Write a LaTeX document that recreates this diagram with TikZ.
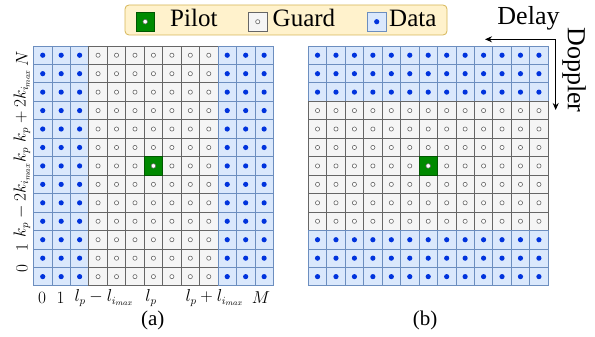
\documentclass[tikz,border=0pt]{standalone}
\usepackage{fontspec}
\setmainfont{Liberation Serif}
\usetikzlibrary{arrows.meta}
\definecolor{datafill}{HTML}{DAE8FC}
\definecolor{datastroke}{HTML}{6C8EBF}
\definecolor{datadot}{HTML}{0033DD}
\definecolor{guardfill}{HTML}{F5F5F5}
\definecolor{guardstroke}{HTML}{666666}
\definecolor{pilotfill}{HTML}{008A00}
\definecolor{pilotstroke}{HTML}{005700}
\definecolor{legfill}{HTML}{FFF2CC}
\definecolor{legstroke}{HTML}{D6B656}
\newcommand\cellsz{18.45}
\newcommand\mydatacell[2]{%
  \draw[draw=datastroke,fill=datafill,line width=0.8pt] (#1,#2) rectangle ++(\cellsz,\cellsz);
  \fill[datadot] (#1+9.225,#2+9.225) circle (2.6);}
\newcommand\myguardcell[2]{%
  \draw[draw=guardstroke,fill=guardfill,line width=0.8pt] (#1,#2) rectangle ++(\cellsz,\cellsz);
  \draw[guardstroke,fill=white,line width=0.6pt] (#1+9.225,#2+9.225) circle (2.1);}
\newcommand\mypilotcell[2]{%
  \draw[draw=pilotstroke,fill=pilotfill,line width=0.8pt] (#1,#2) rectangle ++(\cellsz,\cellsz);
  \draw[guardstroke,fill=white,line width=0.5pt] (#1+9.225,#2+9.225) circle (2.3);}
\tikzset{
  leglabel/.style={anchor=base west,inner sep=0pt,font=\fontsize{25}{25}\selectfont},
  caplabel/.style={inner sep=0pt,font=\fontsize{21}{21}\selectfont},
  axlabel/.style={inner sep=0pt,font=\fontsize{16}{16}\selectfont},
  dirlabel/.style={inner sep=1pt,fill=white,font=\fontsize{26}{26}\selectfont},
  dirarrow/.style={line width=1.1pt,-{Stealth[length=7pt,width=6pt]}}
}
\begin{document}
\begin{tikzpicture}[x=1pt,y=-1pt]
\useasboundingbox (0,0) rectangle (595,337);
% legend
\draw[draw=legstroke,fill=legfill,line width=0.8pt,rounded corners=4pt] (125,5) rectangle (447,35);
\mypilotcell{136}{12.5}
\myguardcell{248.5}{12.5}
\mydatacell{367.5}{12.5}
\node[leglabel] (lpilot) at (170,27) {Pilot};
\node[leglabel] (lguard) at (272.5,27) {Guard};
\node[leglabel] (ldata) at (389,27) {Data};
% grid (a)
\foreach \i in {0,...,12}{\foreach \j in {0,...,12}{
  \pgfmathsetmacro\xx{33.5+\i*\cellsz}\pgfmathsetmacro\yy{46+\j*\cellsz}
  \ifnum\i<3 \mydatacell{\xx}{\yy}\else\ifnum\i>9 \mydatacell{\xx}{\yy}\else\myguardcell{\xx}{\yy}\fi\fi
}}
\mypilotcell{144.2}{156.7}
% grid (b)
\foreach \i in {0,...,12}{\foreach \j in {0,...,12}{
  \pgfmathsetmacro\xx{308.3+\i*\cellsz}\pgfmathsetmacro\yy{46+\j*\cellsz}
  \ifnum\j<3 \mydatacell{\xx}{\yy}\else\ifnum\j>9 \mydatacell{\xx}{\yy}\else\myguardcell{\xx}{\yy}\fi\fi
}}
\mypilotcell{419}{156.7}
% axis labels (a)
\node[axlabel] (x0) at (42,298) {$0$};
\node[axlabel] (x1) at (60.5,298) {$1$};
\node[axlabel] (xlm) at (104,298) {$l_p - l_{i_{max}}$};
\node[axlabel] (xlp) at (151,298) {$l_p$};
\node[axlabel] (xlpp) at (214.5,298) {$l_p + l_{i_{max}}$};
\node[axlabel] (xM) at (261,298) {$M$};
\node[axlabel,rotate=90] (y0) at (22,269) {$0$};
\node[axlabel,rotate=90] (y1) at (22,248) {$1$};
\node[axlabel,rotate=90] (ykm) at (22,200) {$k_p - 2k_{i_{max}}$};
\node[axlabel,rotate=90] (ykp) at (22,155) {$k_p$};
\node[axlabel,rotate=90] (ykpp) at (22,106) {$k_p + 2k_{i_{max}}$};
\node[axlabel,rotate=90] (yN) at (22,59) {$N$};
% captions
\node[caplabel] (capa) at (152.7,320) {(a)};
\node[caplabel] (capb) at (425,320) {(b)};
% directions
\coordinate (corner) at (555.7,39.3);
\coordinate (delayend) at (485,39.3);
\coordinate (dopend) at (555.7,110);
\draw[dirarrow] (corner) -- (delayend);
\draw[dirarrow] (corner) -- (dopend);
\node[dirlabel] (delay) at (528.5,18) {Delay};
\node[dirlabel,rotate=-90] (doppler) at (574,70) {Doppler};
\end{tikzpicture}
\end{document}
